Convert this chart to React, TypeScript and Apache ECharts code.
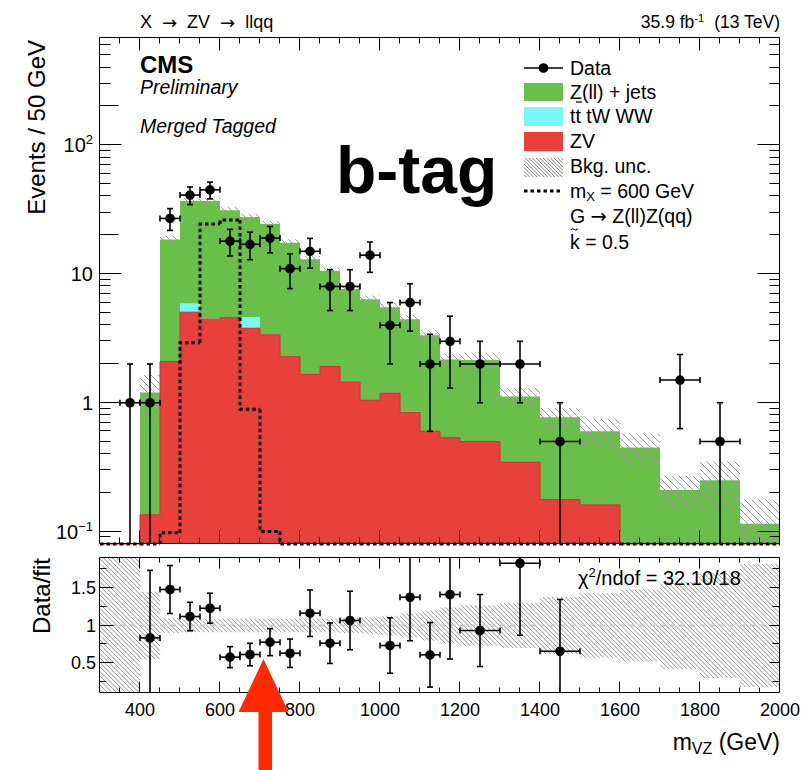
import React, { useEffect, useRef } from "react";
import * as echarts from "echarts";

const FONT = '"Liberation Sans", Arial, Helvetica, sans-serif';
const ARROW_FONT = '"DejaVu Sans", "Liberation Sans", sans-serif';

// ---------------- data ----------------
const binEdges = [300, 350, 400, 450, 500, 550, 600, 650, 700, 750, 800, 850, 900, 950, 1000, 1050, 1100, 1150, 1200, 1300, 1400, 1500, 1600, 1700, 1800, 1900, 2000];
// top of the full background stack (Z(ll)+jets on top of tt/tW/WW and ZV)
const stackTotal = [0, 0, 1.2, 18.5, 36.8, 36.8, 31.3, 27.7, 24.4, 17.5, 13.0, 10.6, 7.65, 6.36, 5.52, 4.45, 3.34, 2.17, 2.15, 1.12, 0.77, 0.6, 0.45, 0.21, 0.25, 0.115];
const zvValues = [0, 0, 0.135, 2.09, 5.05, 4.46, 4.58, 3.79, 3.37, 2.28, 1.67, 1.91, 1.45, 1.05, 1.19, 0.84, 0.6, 0.535, 0.5, 0.345, 0.177, 0.161, 0.05, 0.04, 0.03, 0.02];
const ttValues = [0, 0, 0, 0.02, 0.88, 0.05, 0.04, 0.85, 0.03, 0.02, 0.02, 0.01, 0.01, 0.01, 0.01, 0.01, 0, 0, 0, 0, 0, 0, 0, 0, 0, 0];
const bkgRelUnc = [0, 0, 0.37, 0.07, 0.06, 0.06, 0.06, 0.06, 0.06, 0.06, 0.06, 0.06, 0.07, 0.07, 0.08, 0.08, 0.1, 0.1, 0.14, 0.16, 0.18, 0.25, 0.28, 0.29, 0.4, 0.54];
const signalValues = [0, 0, 0, 0.098, 2.93, 24.4, 26.2, 0.89, 0.1, 0, 0, 0, 0, 0, 0, 0, 0, 0, 0, 0, 0, 0, 0, 0, 0, 0];
const dataValues = [null, 1, 1, 27, 41, 45, 18, 17, 19, 11, 15, 8, 8, 14, 4, 6, 2, 3, 2, 2, 0.5, null, null, 1.5, 0.5, null];
const dataErrors = [null, 1, 1, 5.2, 6.4, 6.7, 4.2, 4.1, 4.4, 3.3, 3.9, 2.8, 2.8, 3.7, 2, 2.4, 1.4, 1.7, 1, 1, 0.5, null, null, 0.87, 0.5, null];
const ratioValues = [null, null, 0.835, 1.48, 1.12, 1.23, 0.578, 0.613, 0.778, 0.63, 1.164, 0.764, 1.067, null, 0.733, 1.377, 0.609, 1.413, 0.933, 1.83, 0.657, null, null, null, null, null];
const ratioErrors = [null, null, 0.9, 0.32, 0.19, 0.2, 0.14, 0.15, 0.18, 0.19, 0.31, 0.27, 0.39, null, 0.37, 0.58, 0.43, 0.86, 0.48, 0.96, 0.69, null, null, null, null, null];
const ratioRelUnc = [1, 1, 0.45, 0.1, 0.09, 0.09, 0.09, 0.09, 0.09, 0.09, 0.09, 0.09, 0.1, 0.11, 0.13, 0.16, 0.2, 0.24, 0.27, 0.3, 0.38, 0.43, 0.48, 0.58, 0.7, 0.82];

const xTickLabels = [400, 600, 800, 1000, 1200, 1400, 1600, 1800, 2000];
const mainYTickLabels = [0.1, 1, 10, 100];
const ratioYTickLabels = [0.5, 1, 1.5];
const ratioYMinorTicks = [0.25, 0.75, 1.25, 1.75];

const X_MIN = 300, X_MAX = 2000;
const Y_MIN = 0.08, Y_MAX = 680;
const R_MIN = 0.1, R_MAX = 1.9;

const GREEN = "#6abf4b";
const CYAN = "#7af7f7";
const RED = "#e8403a";
const RED_EDGE = "#c8342e";
const HATCH_MAIN = "#9a9a9a";
const HATCH_RATIO = "#959595";
const ARROW = "#ff2a00";

// ---------------- helpers ----------------
const bins = binEdges.slice(0, -1).map((e, i) => ({ lo: e, hi: binEdges[i + 1] }));

function hatchLines(x0: number, y0: number, x1: number, y1: number, sp: number, style: any) {
  const out: any[] = [];
  if (x1 - x0 < 0.5 || y1 - y0 < 0.5) return out;
  const start = Math.ceil((x0 - y1) / sp) * sp;
  for (let c = start; c <= x1 - y0; c += sp) {
    const ya = Math.max(y0, x0 - c);
    const yb = Math.min(y1, x1 - c);
    if (yb - ya > 0.3) out.push({ type: "line", shape: { x1: ya + c, y1: ya, x2: yb + c, y2: yb }, style });
  }
  return out;
}

const snap = (v: number) => Math.round(v) + 0.5;

function rectSeries(values: number[], color: string, z: number) {
  return {
    type: "custom",
    xAxisIndex: 0,
    yAxisIndex: 0,
    silent: true,
    z,
    encode: { x: [0, 1], y: [2, 3] },
    data: bins
      .map((b, i) => [b.lo, b.hi, Y_MIN, Math.max(values[i], Y_MIN)])
      .filter((d) => d[3] > Y_MIN),
    renderItem: (params: any, api: any) => {
      const a = api.coord([api.value(0), Math.min(api.value(3), Y_MAX)]);
      const b = api.coord([api.value(1), api.value(2)]);
      return {
        type: "rect",
        shape: { x: a[0], y: a[1], width: b[0] - a[0], height: b[1] - a[1] },
        style: { fill: color },
      };
    },
  };
}

function stepSeries(values: number[], color: string, width: number, dash: number[] | null, z: number) {
  return {
    type: "custom",
    xAxisIndex: 0,
    yAxisIndex: 0,
    silent: true,
    z,
    encode: { x: [0, 1], y: [2, 3] },
    data: bins.map((b, i) => [
      b.lo,
      b.hi,
      Math.max(values[i], Y_MIN),
      Math.max(i > 0 ? values[i - 1] : 0, Y_MIN),
    ]),
    renderItem: (params: any, api: any) => {
      const p0 = api.coord([api.value(0), api.value(3)]);
      const p1 = api.coord([api.value(0), api.value(2)]);
      const p2 = api.coord([api.value(1), api.value(2)]);
      return {
        type: "polyline",
        shape: { points: [p0, p1, p2] },
        style: { stroke: color, lineWidth: width, fill: "none", lineDash: dash || undefined, lineCap: "butt" },
      };
    },
  };
}

function pointSeries(idx: number, values: (number | null)[], errors: (number | null)[], yMin: number, yMax: number) {
  const data: number[][] = [];
  bins.forEach((b, i) => {
    const v = values[i];
    const e = errors[i];
    if (v === null || e === null) return;
    data.push([(b.lo + b.hi) / 2, v, e, (b.hi - b.lo) / 2]);
  });
  return {
    type: "custom",
    xAxisIndex: idx,
    yAxisIndex: idx,
    silent: true,
    z: 6,
    encode: { x: 0, y: 1 },
    data,
    renderItem: (params: any, api: any) => {
      const xc = api.value(0), v = api.value(1), e = api.value(2), hw = api.value(3);
      const topV = v + e, botV = v - e;
      const p = api.coord([xc, v]);
      const top = api.coord([xc, Math.min(topV, yMax)]);
      const bot = api.coord([xc, Math.max(botV, yMin)]);
      const l = api.coord([xc - hw, v]);
      const r = api.coord([xc + hw, v]);
      const st = { stroke: "#000", lineWidth: 1.6 };
      const ch: any[] = [
        { type: "line", shape: { x1: p[0], y1: top[1], x2: p[0], y2: bot[1] }, style: st },
        { type: "line", shape: { x1: l[0], y1: p[1], x2: r[0], y2: p[1] }, style: st },
        { type: "line", shape: { x1: l[0], y1: p[1] - 3, x2: l[0], y2: p[1] + 3 }, style: st },
        { type: "line", shape: { x1: r[0], y1: p[1] - 3, x2: r[0], y2: p[1] + 3 }, style: st },
      ];
      if (topV < yMax) ch.push({ type: "line", shape: { x1: p[0] - 3, y1: top[1], x2: p[0] + 3, y2: top[1] }, style: st });
      if (botV > yMin) ch.push({ type: "line", shape: { x1: p[0] - 3, y1: bot[1], x2: p[0] + 3, y2: bot[1] }, style: st });
      ch.push({ type: "circle", shape: { cx: p[0], cy: p[1], r: 4.8 }, style: { fill: "#000" } });
      return { type: "group", children: ch };
    },
  };
}

function bandSeries(idx: number, lows: number[], highs: number[], keep: boolean[], yMin: number, yMax: number, sp: number, color: string) {
  return {
    type: "custom",
    xAxisIndex: idx,
    yAxisIndex: idx,
    silent: true,
    z: 4,
    encode: { x: [0, 1], y: [2, 3] },
    data: bins
      .map((b, i) => [b.lo, b.hi, Math.max(lows[i], yMin), Math.min(highs[i], yMax)])
      .filter((d, i) => keep[i]),
    renderItem: (params: any, api: any) => {
      const a = api.coord([api.value(0), api.value(3)]);
      const b = api.coord([api.value(1), api.value(2)]);
      return {
        type: "group",
        children: hatchLines(a[0], a[1], b[0], b[1], sp, { stroke: color, lineWidth: 1 }),
      };
    },
  };
}

type TickSpec = { v: number; left: number; right: number };

function ticksSeries(idx: number, yMin: number, yMax: number, yTicks: TickSpec[], xMajorLen: number, xMinorLen: number) {
  return {
    type: "custom",
    xAxisIndex: idx,
    yAxisIndex: idx,
    silent: true,
    z: 8,
    encode: { x: 0, y: 1 },
    data: [[(X_MIN + X_MAX) / 2, Math.sqrt(yMin * yMax)]],
    renderItem: (params: any, api: any) => {
      const tl = api.coord([X_MIN, yMax]);
      const br = api.coord([X_MAX, yMin]);
      const L = snap(tl[0]) - 1, R = snap(br[0]) - 1, T = snap(tl[1]) - 1, B = snap(br[1]) - 1;
      const st = { stroke: "#000", lineWidth: 1 };
      const ch: any[] = [
        { type: "rect", shape: { x: L, y: T, width: R - L, height: B - T }, style: { fill: "none", stroke: "#000", lineWidth: 1 } },
      ];
      yTicks.forEach((t) => {
        const y = snap(api.coord([X_MIN, t.v])[1]) - 1;
        ch.push({ type: "line", shape: { x1: L, y1: y, x2: L + t.left, y2: y }, style: st });
        ch.push({ type: "line", shape: { x1: R, y1: y, x2: R - t.right, y2: y }, style: st });
      });
      for (let xv = X_MIN + 50; xv < X_MAX; xv += 50) {
        const len = xv % 200 === 0 ? xMajorLen : xMinorLen;
        const x = snap(api.coord([xv, yMin])[0]) - 1;
        ch.push({ type: "line", shape: { x1: x, y1: T, x2: x, y2: T + len }, style: st });
        ch.push({ type: "line", shape: { x1: x, y1: B, x2: x, y2: B - len }, style: st });
      }
      return { type: "group", children: ch };
    },
  };
}

function mainYTicks(): TickSpec[] {
  const out: TickSpec[] = [];
  mainYTickLabels.forEach((v) => out.push({ v, left: 22, right: 22 }));
  for (let e = -2; e <= 2; e++) {
    for (let m = 2; m <= 9; m++) {
      const v = m * Math.pow(10, e);
      if (v <= Y_MIN * 1.01 || v >= Y_MAX) continue;
      const mid = m === 2 && e >= 0;
      out.push({ v, left: mid ? 19 : 11, right: 10 });
    }
  }
  return out;
}

function ratioYTicks(): TickSpec[] {
  const out: TickSpec[] = [];
  ratioYTickLabels.forEach((v) => out.push({ v, left: 14, right: 10 }));
  ratioYMinorTicks.forEach((v) => out.push({ v, left: 7, right: 7 }));
  return out;
}

function txt(text: string, x: number, y: number, size: number, opts: any = {}) {
  const { align = "left", weight = "normal", italic = false, rich, rotation, fill = "#000" } = opts;
  const el: any = {
    type: "text",
    x,
    y,
    z: 50,
    silent: true,
    style: {
      text,
      fill,
      fontSize: size,
      fontFamily: FONT,
      fontWeight: weight,
      fontStyle: italic ? "italic" : "normal",
      align,
      verticalAlign: "middle",
      textAlign: align,
      textVerticalAlign: "middle",
    },
  };
  if (rich) el.style.rich = rich;
  if (rotation) el.rotation = rotation;
  return el;
}

function richBase(size: number, supSize: number, lh: number) {
  return {
    a: { fontSize: size, fontFamily: FONT, fill: "#000", lineHeight: lh },
    r: { fontSize: size, fontFamily: ARROW_FONT, fill: "#000", lineHeight: lh },
    s: { fontSize: supSize, fontFamily: FONT, fill: "#000", verticalAlign: "top", lineHeight: Math.round(lh / 2) },
    d: { fontSize: supSize, fontFamily: FONT, fill: "#000", verticalAlign: "bottom", lineHeight: Math.round(lh / 2) },
  };
}

function buildOption() {
  const bandLowMain = stackTotal.map((t, i) => t * (1 - bkgRelUnc[i]));
  const bandHighMain = stackTotal.map((t, i) => t * (1 + bkgRelUnc[i]));
  const ratioLow = ratioRelUnc.map((u) => 1 - u);
  const ratioHigh = ratioRelUnc.map((u) => 1 + u);
  const cyanTop = zvValues.map((v, i) => v + ttValues[i]);

  const legendX0 = 524, legendX1 = 563, legendTx = 570;

  const graphic: any[] = [
    txt("{a|X  }{r|→}{a|  ZV  }{r|→}{a|  llqq}", 140, 22, 18, { rich: richBase(18, 11, 22) }),
    txt("{a|35.9 fb}{s|-1}{a|  (13 TeV)}", 780, 22, 17.5, { align: "right", rich: richBase(17.5, 11, 20) }),
    txt("CMS", 140, 64, 24, { weight: "bold" }),
    txt("Preliminary", 140, 87, 19.5, { italic: true }),
    txt("Merged Tagged", 140, 126, 19.5, { italic: true }),
    txt("b-tag", 336, 170, 66, { weight: "bold" }),
    // legend
    { type: "line", z: 50, silent: true, shape: { x1: legendX0, y1: 68, x2: legendX1, y2: 68 }, style: { stroke: "#000", lineWidth: 1.6 } },
    { type: "circle", z: 50, silent: true, shape: { cx: (legendX0 + legendX1) / 2, cy: 68, r: 4.8 }, style: { fill: "#000" } },
    txt("Data", legendTx, 68, 19.5),
    { type: "rect", z: 50, silent: true, shape: { x: legendX0, y: 83, width: legendX1 - legendX0, height: 18 }, style: { fill: GREEN } },
    txt("Z(ll) + jets", legendTx, 92, 19.5),
    { type: "rect", z: 50, silent: true, shape: { x: legendX0, y: 107, width: legendX1 - legendX0, height: 19 }, style: { fill: CYAN } },
    txt("tt tW WW", legendTx, 116, 19.5),
    { type: "line", z: 50, silent: true, shape: { x1: 576, y1: 102, x2: 582, y2: 102 }, style: { stroke: "#000", lineWidth: 1.2 } },
    { type: "rect", z: 50, silent: true, shape: { x: legendX0, y: 132, width: legendX1 - legendX0, height: 19 }, style: { fill: RED } },
    txt("ZV", legendTx, 141, 19.5),
    {
      type: "group",
      z: 50,
      silent: true,
      children: hatchLines(legendX0, 158, legendX1, 177, 3.6, { stroke: "#808080", lineWidth: 1 }),
    },
    txt("Bkg. unc.", legendTx, 166, 19.5),
    { type: "line", z: 50, silent: true, shape: { x1: legendX0, y1: 191, x2: legendX1, y2: 191 }, style: { stroke: "#000", lineWidth: 3, lineDash: [3.5, 3] } },
    txt("{a|m}{d|X}{a| = 600 GeV}", legendTx, 191, 19.5, { rich: richBase(19.5, 13, 24) }),
    txt("{a|G }{r|→}{a| Z(ll)Z(qq)}", legendTx, 216, 19.5, { rich: richBase(19.5, 13, 24) }),
    // tilde accent of k
    {
      type: "bezierCurve",
      z: 50,
      silent: true,
      shape: { x1: 571, y1: 230, cpx1: 573, cpy1: 226, cpx2: 575, cpy2: 233, x2: 577.5, y2: 228.5 },
      style: { stroke: "#000", lineWidth: 1.1, fill: "none" },
    },
    txt("k = 0.5", legendTx, 242, 19.5),
    // axis titles
    txt("Events / 50 GeV", 36, 40, 24, { align: "right", rotation: Math.PI / 2 }),
    txt("Data/fit", 41, 558, 24, { align: "right", rotation: Math.PI / 2 }),
    txt("{a|m}{d|VZ}{a| (GeV)}", 780, 742, 23, { align: "right", rich: richBase(23, 16, 28) }),
    txt("{a|χ}{s|2}{a|/ndof = 32.10/18}", 578, 578, 20, { rich: richBase(20, 13, 24) }),
    // annotation arrow
    {
      type: "polygon",
      z: 100,
      silent: true,
      shape: {
        points: [
          [263.5, 659],
          [288.5, 712],
          [272, 712],
          [272, 770],
          [258.5, 770],
          [258.5, 712],
          [238.5, 712],
        ],
      },
      style: { fill: ARROW },
    },
  ];

  const labelRich = {
    b: { fontSize: 20, fontFamily: FONT, color: "#000", lineHeight: 24 },
    s: { fontSize: 13, fontFamily: FONT, color: "#000", verticalAlign: "top", lineHeight: 12 },
  };

  return {
    animation: false,
    backgroundColor: "#fff",
    textStyle: { fontFamily: FONT },
    grid: [
      { left: 100, top: 38, width: 680, height: 506, show: false, containLabel: false, outerBoundsMode: "none" },
      { left: 100, top: 558, width: 680, height: 135, show: false, containLabel: false, outerBoundsMode: "none" },
    ],
    xAxis: [
      {
        type: "value",
        gridIndex: 0,
        min: X_MIN,
        max: X_MAX,
        axisLine: { show: false },
        axisTick: { show: false },
        axisLabel: { show: false },
        splitLine: { show: false },
      },
      {
        type: "value",
        gridIndex: 1,
        min: X_MIN,
        max: X_MAX,
        axisLine: { show: false },
        axisTick: { show: false },
        splitLine: { show: false },
        axisLabel: {
          customValues: xTickLabels,
          color: "#000",
          fontSize: 18,
          fontFamily: FONT,
          margin: 8,
          formatter: (v: number) => String(v),
        },
      },
    ],
    yAxis: [
      {
        type: "log",
        logBase: 10,
        gridIndex: 0,
        min: Y_MIN,
        max: Y_MAX,
        axisLine: { show: false },
        axisTick: { show: false },
        splitLine: { show: false },
        minorTick: { show: false },
        axisLabel: {
          customValues: mainYTickLabels,
          margin: 7,
          color: "#000",
          formatter: (v: number) => {
            const e = Math.round(Math.log10(v));
            if (e === 0) return "{b|1}";
            if (e === 1) return "{b|10}";
            return `{b|10}{s|${e < 0 ? "−" + -e : e}}`;
          },
          rich: labelRich,
        },
      },
      {
        type: "value",
        gridIndex: 1,
        min: R_MIN,
        max: R_MAX,
        axisLine: { show: false },
        axisTick: { show: false },
        splitLine: { show: false },
        axisLabel: {
          customValues: ratioYTickLabels,
          margin: 4,
          color: "#000",
          fontSize: 18,
          fontFamily: FONT,
          formatter: (v: number) => String(v),
        },
      },
    ],
    graphic,
    series: [
      rectSeries(stackTotal, GREEN, 1),
      rectSeries(cyanTop, CYAN, 2),
      rectSeries(zvValues, RED, 3),
      stepSeries(zvValues, RED_EDGE, 1, null, 3),
      bandSeries(0, bandLowMain, bandHighMain, stackTotal.map((t) => t > 0), Y_MIN, Y_MAX, 7, HATCH_MAIN),
      stepSeries(signalValues, "#000", 3, [3.5, 3], 5),
      pointSeries(0, dataValues, dataErrors, Y_MIN, Y_MAX),
      ticksSeries(0, Y_MIN, Y_MAX, mainYTicks(), 13, 6),
      // ratio panel
      bandSeries(1, ratioLow, ratioHigh, ratioRelUnc.map(() => true), R_MIN, R_MAX, 4.5, HATCH_RATIO),
      {
        type: "custom",
        xAxisIndex: 1,
        yAxisIndex: 1,
        silent: true,
        z: 5,
        encode: { x: [0, 1], y: 2 },
        data: [[X_MIN, X_MAX, 1]],
        renderItem: (params: any, api: any) => {
          const a = api.coord([api.value(0), api.value(2)]);
          const b = api.coord([api.value(1), api.value(2)]);
          return {
            type: "line",
            shape: { x1: a[0], y1: a[1], x2: b[0], y2: b[1] },
            style: { stroke: "#c8c8c8", lineWidth: 2, lineDash: [5, 5] },
          };
        },
      },
      pointSeries(1, ratioValues, ratioErrors, R_MIN, R_MAX),
      ticksSeries(1, R_MIN, R_MAX, ratioYTicks(), 11, 5),
    ],
  };
}

export default function App() {
  const ref = useRef<HTMLDivElement>(null);
  useEffect(() => {
    if (!ref.current) return;
    const chart = echarts.init(ref.current, null, { renderer: "svg" });
    chart.setOption(buildOption() as any);
    return () => {
      chart.dispose();
    };
  }, []);
  return (
    <div
      ref={ref}
      style={{ position: "absolute", left: 0, top: 0, width: 801, height: 770, background: "#fff" }}
    />
  );
}
